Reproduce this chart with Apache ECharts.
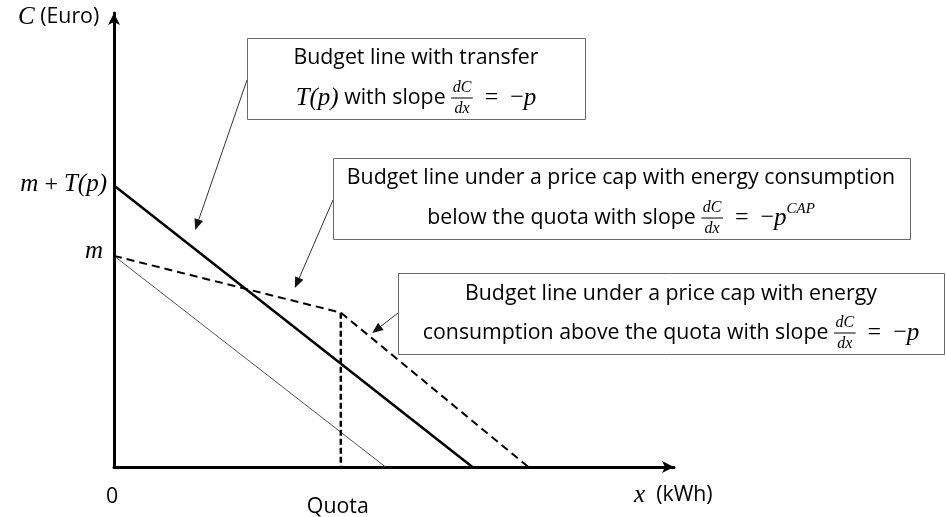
<!DOCTYPE html>
<html><head><meta charset="utf-8">
<script src="https://cdn.jsdelivr.net/npm/echarts@6/dist/echarts.min.js"></script>
<style>html,body{margin:0;padding:0;background:#fff}#c{width:946px;height:517px}</style>
</head><body><div id="c"></div>
<script>
// ---- data (axis units: x 0..10, y 0..10) ----
const budgetWithTransfer = [[0, 6.2], [6.4, 0]];
const originalBudget = [[0, 4.65], [4.85, 0]];
const priceCapBudget = [[0, 4.65], [4.05, 3.4], [7.4, 0]];
const quotaLine = [[4.05, 3.4], [4.05, 0]];
const yTickM = 4.65;
const yTickMT = 6.2;
const quotaValue = 4.05;
// arrow tips (data coords) for annotations
const arrowTips = [[1.45, 5.22], [3.23, 3.94], [4.61, 2.95]];

const SANS = '"Open Sans", "Liberation Sans", sans-serif';
const SERIF = '"Liberation Serif", "DejaVu Serif", serif';

const chart = echarts.init(document.getElementById('c'), null, {renderer: 'canvas'});
const axisCommon = {
  type: 'value', min: 0, max: 10,
  axisLine: {show: true, symbol: ['none', 'arrow'], symbolSize: [9, 12], lineStyle: {color: '#000', width: 3}},
  axisTick: {show: false}, axisLabel: {show: false}, splitLine: {show: false}
};
chart.setOption({
  animation: false,
  grid: {left: 114, top: 13, width: 560, height: 454},
  xAxis: Object.assign({}, axisCommon),
  yAxis: Object.assign({}, axisCommon),
  series: [
    {type: 'line', data: originalBudget, showSymbol: false, lineStyle: {color: '#555', width: 1}},
    {type: 'line', data: budgetWithTransfer, showSymbol: false, lineStyle: {color: '#000', width: 2.5}},
    {type: 'line', data: priceCapBudget, showSymbol: false, lineStyle: {color: '#000', width: 2, type: [8, 5]}},
    {type: 'line', data: quotaLine, showSymbol: false, lineStyle: {color: '#000', width: 2.5, type: [6, 3]}}
  ]
});

// ---- annotation helpers ----
const mctx = document.createElement('canvas').getContext('2d');
function tw(text, font) { mctx.font = font; return mctx.measureText(text).width; }

const refLine = 'Budget line under a price cap with energy consumption';
const sansSize = Math.round(20 * 548 / tw(refLine, '20px ' + SANS) * 10) / 10;
const fSans = sansSize + 'px ' + SANS;
const fMath = 'italic 25px ' + SERIF;
const fMathUp = '24px ' + SERIF;
const fSmall = 'italic 16px ' + SERIF;
const fSup = 'italic 15px ' + SERIF;

function segWidth(s) {
  if (s.frac) return Math.max(tw(s.frac[0], fSmall), tw(s.frac[1], fSmall)) + 3;
  return tw(s.t, s.f);
}
function mathLine(segs, x, y, align) {
  const total = segs.reduce((a, s) => a + segWidth(s), 0);
  let cx = align === 'right' ? x - total : align === 'left' ? x : x - total / 2;
  const els = [];
  segs.forEach(s => {
    const w = segWidth(s);
    if (s.frac) {
      els.push({type: 'text', x: cx + w / 2, y: y - 10, style: {text: s.frac[0], font: fSmall, fill: '#000', align: 'center', verticalAlign: 'middle'}});
      els.push({type: 'text', x: cx + w / 2, y: y + 11, style: {text: s.frac[1], font: fSmall, fill: '#000', align: 'center', verticalAlign: 'middle'}});
      els.push({type: 'line', shape: {x1: cx, y1: y, x2: cx + w, y2: y}, style: {stroke: '#000', lineWidth: 1}});
    } else {
      els.push({type: 'text', x: cx, y: y + (s.dy || 0), style: {text: s.t, font: s.f, fill: '#000', align: 'left', verticalAlign: 'middle'}});
    }
    cx += w;
  });
  return els;
}
function box(x1, y1, x2, y2) {
  return {type: 'rect', shape: {x: x1 + 0.5, y: y1 + 0.5, width: x2 - x1, height: y2 - y1}, style: {fill: '#fff', stroke: '#6a6a6a', lineWidth: 1}, z: 10};
}
function arrow(sx, sy, tx, ty) {
  const ang = Math.atan2(ty - sy, tx - sx), L = 11, H = 4.5;
  const bx = tx - L * Math.cos(ang), by = ty - L * Math.sin(ang);
  const px = -Math.sin(ang) * H, py = Math.cos(ang) * H;
  return [
    {type: 'line', shape: {x1: sx, y1: sy, x2: bx, y2: by}, style: {stroke: '#333', lineWidth: 1}, z: 9},
    {type: 'polygon', shape: {points: [[tx, ty], [bx + px, by + py], [bx - px, by - py]]}, style: {fill: '#111'}, z: 9}
  ];
}

const P = (p) => chart.convertToPixel({gridIndex: 0}, p);
const gfx = [];
gfx.push(box(247, 38, 585, 119));
gfx.push(box(333, 158, 910, 239));
gfx.push(box(398, 273, 944, 354));
const t1 = P(arrowTips[0]), t2 = P(arrowTips[1]), t3 = P(arrowTips[2]);
gfx.push(...arrow(247, 80, t1[0], t1[1]));
gfx.push(...arrow(333, 200, t2[0], t2[1]));
gfx.push(...arrow(398, 313, t3[0], t3[1]));

const frac = {frac: ['dC', 'dx']};
const eq = [{t: '\u2002=\u2002', f: fMathUp}, {t: '−', f: fMathUp}];
const withZ = (arr) => arr.map(e => Object.assign(e, {z: 11}));
// box 1
gfx.push(...withZ(mathLine([{t: 'Budget line with transfer', f: fSans}], 416, 58)));
gfx.push(...withZ(mathLine([{t: 'T(p)', f: fMath}, {t: ' with slope ', f: fSans}, frac, ...eq, {t: 'p', f: fMath}], 416, 98)));
// box 2
gfx.push(...withZ(mathLine([{t: 'Budget line under a price cap with energy consumption', f: fSans}], 621, 178)));
gfx.push(...withZ(mathLine([{t: 'below the quota with slope ', f: fSans}, frac, ...eq, {t: 'p', f: fMath}, {t: 'CAP', f: fSup, dy: -9}], 621, 218)));
// box 3
gfx.push(...withZ(mathLine([{t: 'Budget line under a price cap with energy', f: fSans}], 671, 294)));
gfx.push(...withZ(mathLine([{t: 'consumption above the quota with slope ', f: fSans}, frac, ...eq, {t: 'p', f: fMath}], 671, 333)));

// axis labels
const pm = P([0, yTickM]), pmt = P([0, yTickMT]), pq = P([quotaValue, 0]), p0 = P([0, 0]);
gfx.push(...mathLine([{t: 'C', f: fMath}, {t: ' (Euro)', f: fSans}], 18, 17, 'left'));
gfx.push(...mathLine([{t: 'm', f: fMath}, {t: ' + ', f: fMathUp}, {t: 'T(p)', f: fMath}], 107, pmt[1] - 1, 'right'));
gfx.push(...mathLine([{t: 'm', f: fMath}], 103, pm[1] - 4, 'right'));
gfx.push(...mathLine([{t: '0', f: fSans}], p0[0] - 2, 497));
gfx.push(...mathLine([{t: 'Quota', f: fSans}], pq[0] - 3, 507));
gfx.push(...mathLine([{t: 'x', f: fMath}, {t: '  (kWh)', f: fSans}], 634, 495, 'left'));

chart.setOption({graphic: {elements: gfx}});
</script>
</body></html>
